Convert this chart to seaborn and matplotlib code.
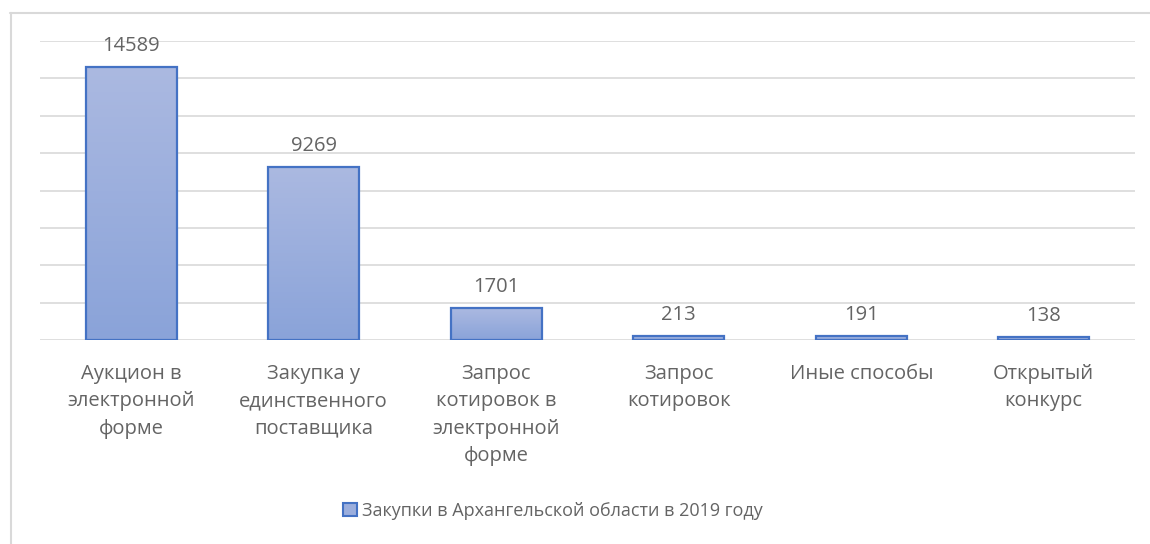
import numpy as np
import pandas as pd
import matplotlib.pyplot as plt
import matplotlib.lines as mlines
import matplotlib.patches as mpatches
import seaborn as sns

# Data
categories = [
    "Аукцион в\nэлектронной\nформе",
    "Закупка у\nединственного\nпоставщика",
    "Запрос\nкотировок в\nэлектронной\nформе",
    "Запрос\nкотировок",
    "Иные способы",
    "Открытый\nконкурс",
]
values = [14589, 9269, 1701, 213, 191, 138]
series_name = "Закупки в Архангельской области в 2019 году"

df = pd.DataFrame({"category": categories, "value": values})

sns.set_style("white")
plt.rcParams["font.family"] = ["Open Sans", "DejaVu Sans"]

text_color = "#646464"
grid_color = "#d9d9d9"
edge_color = "#4472c4"
top_color = np.array([0xab, 0xb9, 0xe1]) / 255
bottom_color = np.array([0x8a, 0xa3, 0xd9]) / 255

fig = plt.figure(figsize=(11.5, 5.44), dpi=100)
ax = fig.add_axes([40 / 1150, 1 - 340 / 544, 1095 / 1150, 299 / 544])

sns.barplot(data=df, x="category", y="value", width=0.5, ax=ax, saturation=1,
            color=top_color, edgecolor=edge_color, linewidth=1.6, zorder=3)

ax.set_ylim(0, 16000)
ax.set_yticks(np.arange(0, 16001, 2000))
ax.yaxis.grid(True, color=grid_color, linewidth=1.2, zorder=0)
ax.set_yticklabels([])
ax.tick_params(axis="y", length=0)
ax.tick_params(axis="x", length=0, pad=17, labelsize=14.5, labelcolor=text_color)
for lbl in ax.get_xticklabels():
    lbl.set_linespacing(1.5)
ax.set_xlabel("")
ax.set_ylabel("")
for side in ["top", "right", "left", "bottom"]:
    ax.spines[side].set_visible(False)

# vertical gradient fill inside every bar
grad = np.linspace(0, 1, 256)[:, None, None]
grad_img = top_color * (1 - grad) + bottom_color * grad
for patch in ax.patches:
    x0, y0 = patch.get_x(), patch.get_y()
    w, h = patch.get_width(), patch.get_height()
    patch.set_facecolor("none")
    im = ax.imshow(grad_img, extent=(x0, x0 + w, y0, y0 + h), origin="upper",
                   aspect="auto", zorder=2.5, interpolation="bilinear")
    im.set_clip_path(patch)
ax.set_xlim(-0.5, len(categories) - 0.5)
ax.set_ylim(0, 16000)

ax.bar_label(ax.containers[0], labels=[str(v) for v in values], padding=8,
             fontsize=14.5, color=text_color)

# chart frame (only top and left edges visible)
fig.add_artist(mlines.Line2D([10 / 1150, 1.02], [1 - 12.5 / 544] * 2, color=grid_color, lw=1.5))
fig.add_artist(mlines.Line2D([10.5 / 1150] * 2, [-0.02, 1 - 12.5 / 544], color=grid_color, lw=1.5))

handle = mpatches.Patch(facecolor=(top_color + bottom_color) / 2, edgecolor=edge_color,
                        linewidth=1.5, label=series_name)
fig.legend(handles=[handle], loc="center", bbox_to_anchor=(553 / 1150, 1 - 511 / 544),
           frameon=False, fontsize=13, labelcolor=text_color,
           handlelength=0.75, handleheight=0.75, handletextpad=0.3)

fig.savefig("out.png", dpi=100)
